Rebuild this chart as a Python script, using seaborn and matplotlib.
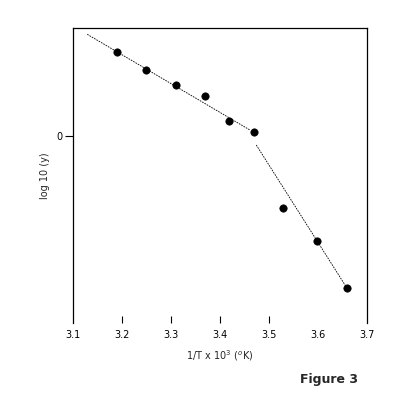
import matplotlib
matplotlib.use("Agg")
import matplotlib.pyplot as plt
import seaborn as sns
import pandas as pd

# data
inv_t = [3.189, 3.249, 3.310, 3.369, 3.419, 3.469, 3.529, 3.598, 3.659]
log_y = [0.837, 0.657, 0.510, 0.403, 0.153, 0.037, -0.723, -1.050, -1.520]

fit1_x = [3.129, 3.461]
fit1_y = [1.017, 0.060]
fit2_x = [3.474, 3.659]
fit2_y = [-0.090, -1.520]

x_ticks = [3.1, 3.2, 3.3, 3.4, 3.5, 3.6, 3.7]
x_tick_labels = ["3.1", "3.2", "3.3", "3.4", "3.5", "3.6", "3.7"]
y_ticks = [0]
y_tick_labels = ["0"]

sns.set_style("white")
plt.rcParams['font.family'] = ['DejaVu Sans']

fig = plt.figure(figsize=(4.0, 4.16), dpi=100)
ax = fig.add_axes([73/400, 1-323/416, (367-73)/400, (323-28)/416])

df = pd.DataFrame({"x": inv_t, "y": log_y})
f1 = pd.DataFrame({"x": fit1_x, "y": fit1_y})
f2 = pd.DataFrame({"x": fit2_x, "y": fit2_y})

sns.lineplot(data=f1, x="x", y="y", ax=ax, color="black", lw=0.6,
             linestyle=(0, (2, 1.2)))
sns.lineplot(data=f2, x="x", y="y", ax=ax, color="black", lw=0.6,
             linestyle=(0, (2, 1.2)))
sns.scatterplot(data=df, x="x", y="y", ax=ax, color="black", s=28,
                edgecolor="black", linewidth=0.5, zorder=3)

ax.set_xlim(3.1, 3.7)
ax.set_ylim((136-323)/100, (136-28)/100)

ax.set_xticks(x_ticks)
ax.set_xticklabels(x_tick_labels, fontsize=7)
ax.set_yticks(y_ticks)
ax.set_yticklabels(y_tick_labels, fontsize=7)

ax.tick_params(axis="x", bottom=True, direction="in", length=5, width=0.8,
               pad=5, colors="black")
ax.tick_params(axis="y", left=True, direction="out", length=6, width=0.8,
               pad=1.5, colors="black")
# no tick mark at 3.6 and edge ticks hidden (spines serve)
for i, t in enumerate(ax.xaxis.get_major_ticks()):
    if x_tick_labels[i] in ("3.1", "3.6", "3.7"):
        t.tick1line.set_visible(False)

for s in ["left", "right", "top"]:
    ax.spines[s].set_visible(True)
    ax.spines[s].set_color("black")
    ax.spines[s].set_linewidth(0.9)
ax.spines["bottom"].set_visible(False)

ax.set_xlabel("1/T x 10$^{3}$ ($^{o}$K)", fontsize=7, labelpad=6)
ax.set_ylabel("log 10 (y)", fontsize=7, labelpad=5)

fig.text(300/400, 1-380/416, "Figure 3", fontsize=9, fontweight="bold",
         va="center", ha="left")

fig.savefig("out.png", dpi=100)
